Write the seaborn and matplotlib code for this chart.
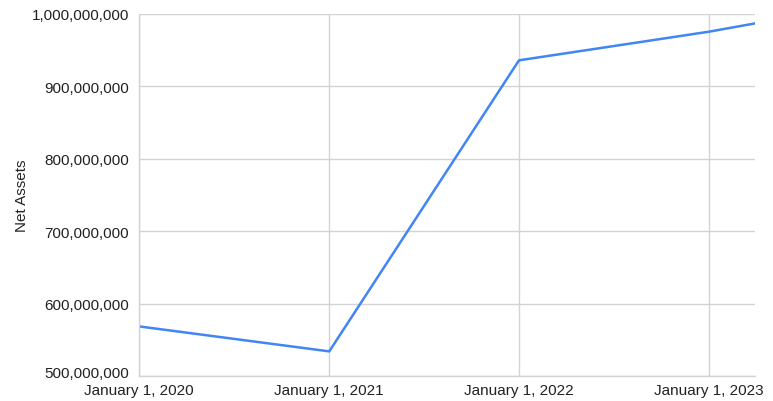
import matplotlib
matplotlib.use("Agg")
import matplotlib.pyplot as plt
import matplotlib.dates as mdates
import matplotlib.ticker as mticker
import matplotlib.transforms as mtransforms
import pandas as pd
import seaborn as sns

# values
dates = ["2020-01-01", "2021-01-01", "2022-01-01", "2023-01-01", "2023-03-31"]
net_assets = [568_500_000, 534_000_000, 936_000_000, 975_500_000, 987_000_000]
tick_dates = ["2020-01-01", "2021-01-01", "2022-01-01", "2023-01-01"]
y_ticks = [500_000_000, 600_000_000, 700_000_000, 800_000_000, 900_000_000, 1_000_000_000]

df = pd.DataFrame({"date": pd.to_datetime(dates), "Net Assets": net_assets})

sns.set_style("white")
plt.rcParams["font.family"] = ["Liberation Sans", "DejaVu Sans"]

fig = plt.figure(figsize=(7.73, 4.02), dpi=100)
ax = fig.add_axes([0.1798, 0.0622, 0.7969, 0.9005])

sns.lineplot(data=df, x="date", y="Net Assets", ax=ax, color="#4285F4", linewidth=1.8)

ax.set_xlim(df["date"].min(), df["date"].max())
ax.set_ylim(y_ticks[0], y_ticks[-1])
ax.set_xticks(pd.to_datetime(tick_dates))
ax.xaxis.set_major_formatter(mticker.FuncFormatter(
    lambda v, p: (lambda d: f"{d:%B} {d.day}, {d.year}")(mdates.num2date(v))))
ax.set_yticks(y_ticks)
ax.yaxis.set_major_formatter(mticker.FuncFormatter(lambda v, p: f"{int(v):,}"))

ax.grid(True, color="#d3d3d3", linewidth=1)
ax.set_axisbelow(True)
ax.tick_params(axis="both", length=0, labelsize=11, colors="#222222")
ax.tick_params(axis="y", pad=7)
ax.tick_params(axis="x", pad=5)
ax.set_xlabel("")
ax.set_ylabel("Net Assets", fontsize=11, color="#222222", labelpad=2)

# lift the bottom y label a touch so it does not collide with the first date
fig.canvas.draw()
lbl = ax.get_yticklabels()[0]
lbl.set_transform(lbl.get_transform() + mtransforms.ScaledTranslation(0, 3 / 72, fig.dpi_scale_trans))

for side in ["top", "right"]:
    ax.spines[side].set_visible(False)
for side in ["left", "bottom"]:
    ax.spines[side].set_color("#d3d3d3")
    ax.spines[side].set_linewidth(1)

fig.savefig("out.png", dpi=100)
